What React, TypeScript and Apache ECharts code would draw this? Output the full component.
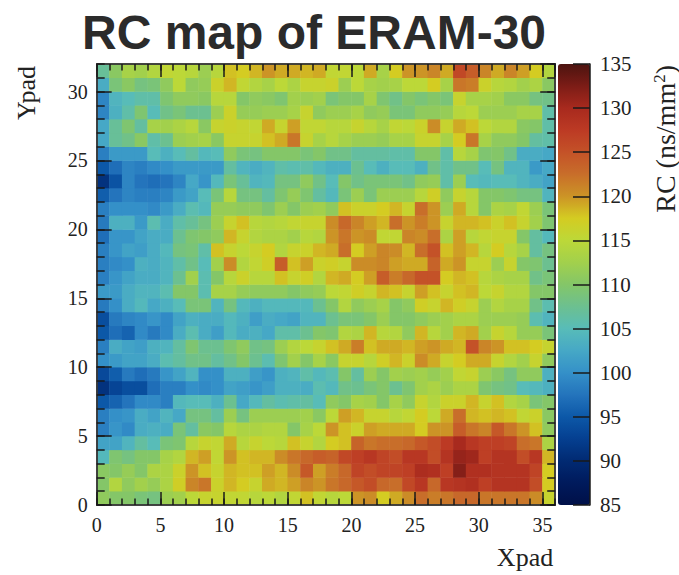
import React, { useEffect, useRef } from "react";
import * as echarts from "echarts";

const xPads = Array.from({ length: 36 }, (_, i) => String(i));
const yPads = Array.from({ length: 32 }, (_, i) => String(i));

// RC values per row; row00 is the bottom row, row31 the top one
const row00 = [111,110,110,109,108.5,112,112.5,115,116,116,115.5,115.5,114.5,115,114,115.5,118,115.5,114.5,115,120,120.5,117.5,119,120.5,122.5,121.5,122,123,123,122,122,122,122,120.5,116];
const row01 = [110,114,111,112.5,111.5,113.5,117,121,122,116.5,118.5,117.5,116,119,118.5,119.5,121,120,122,123,124.5,125.5,123,122.5,126,128,123,128,128.5,129,127,128.5,128.5,128.5,125.5,117.5];
const row02 = [110.5,110,111.5,110,113.5,113.5,116.5,120,118,116,118.5,118,118,119.5,118.5,120.5,124.5,119.5,121.5,123,126.5,125.5,126.5,126.5,127,129.5,129,127,132,129,129,128.5,128.5,128.5,126.5,117.5];
const row03 = [104.5,109.5,108.5,110,110,113,114,118.5,119.5,115.5,120,118,118.5,118.5,120.5,122,123,124,123.5,126,127,128,126.5,125.5,128,128,125.5,128.5,131,130.5,127,128.5,128.5,125.5,128,118.5];
const row04 = [102,102,104,106.5,105,109,109.5,114.5,116,115.5,119,114.5,116,115,114.5,118,116,114,117.5,118,123.5,122,122.5,122.5,123,124.5,125.5,127.5,130,128,127,127,126.5,122.5,122,113.5];
const row05 = [98.5,100.5,99.5,103,103.5,103,109,106.5,110.5,110,114.5,113.5,113.5,114,114,110,113,115,120,118,116.5,119.5,119,119,119,117.5,120,120,124,122,121,124.5,122,120,118,111];
const row06 = [98.5,100,100.5,103,102,104,102.5,108.5,108.5,106.5,112,108.5,112,112,112,112,112.5,110.5,115,119.5,118.5,116,116,114.5,115.5,117.5,115,119,122.5,118.5,118,118.5,118,115.5,116.5,110.5];
const row07 = [95,96,97.5,99.5,99.5,98.5,104.5,105,105,103.5,107.5,102.5,104.5,106.5,105.5,106,106.5,105,111,110,113,112.5,110,113,111,116,114,116.5,116.5,118.5,116,118,114,113,109,110];
const row08 = [91,93,94,94,97,98.5,98.5,100,99.5,100,102,101.5,100.5,101.5,103.5,103.5,103,105.5,104.5,108,107.5,109,110,107.5,109.5,112.5,113.5,112,113.5,113.5,109.5,108.5,108,105,104.5,103.5];
const row09 = [93.5,95.5,98,97,98,100.5,102,104,100,100,103.5,103.5,101.5,100.5,103.5,104,106,104.5,105.5,110,106.5,112,110,112.5,112,112.5,111.5,112.5,115.5,116,112,110.5,108.5,111,111,103.5];
const row10 = [100,101,102,102,103,105.5,106.5,108,108,106.5,108,110,107.5,105.5,109.5,112.5,110,113,110.5,116,116,114.5,117,118.5,116.5,120.5,119,116,117.5,119,119,116,114,112.5,116,111];
const row11 = [98.5,103,102,101.5,103.5,104,106.5,109.5,107.5,107.5,109.5,111,108,108.5,112,114,115,116,118,119,121.5,118,119,119,118.5,119.5,120,119,118.5,125,121,120,118,118,117.5,116];
const row12 = [95,97,96,99.5,98,99.5,103,105.5,103,101.5,104.5,103,103.5,102.5,106,106,107.5,110,109.5,114,113.5,118.5,114.5,114,111,118.5,114.5,112.5,118.5,119,112.5,116,114.5,111.5,111.5,109];
const row13 = [94,98,99,99.5,100.5,99.5,102,103.5,103,103,104.5,103.5,101.5,103,102.5,102,104,104,107.5,109,109,110,112,110,110,111,112,112.5,113.5,113.5,112,112,112,111.5,105.5,104];
const row14 = [98,100,103,104.5,102.5,103.5,105,109,109,104,108.5,104.5,103.5,104.5,104.5,104.5,104.5,107.5,110,114,111,112,113,110,111,117,116,118.5,117,116,112,114,113,113,108,105.5];
const row15 = [101,101,103,104,104,105.5,110,110,105.5,113,113,111.5,111,111,111,110,111,111.5,115,115.5,117,116,118.5,118,116,119.5,118,116,118,118.5,115,116,114,114,110,110];
const row16 = [98.5,100.5,102,103,103,104,107.5,112.5,105.5,110,114.5,116.5,114.5,114.5,118,116,117,114,118.5,119,117.5,119.5,124,121.5,123,125,125,117.5,118.5,118,114.5,113.5,113,113,108,109];
const row17 = [98.5,99.5,100,103.5,103,104,106,108,105,112.5,120.5,114,115.5,117,124,118,119.5,116.5,117,116,120.5,120.5,121,119.5,119,119,123.5,119,120,116,116,112,116,110,109.5,107.5];
const row18 = [98.5,100.5,102,101.5,103,104.5,108.5,109,106,118,116,115,116,117.5,114,116,116.5,118.5,119,122.5,117.5,119.5,121,120.5,118.5,122.5,125,118,119.5,118.5,114.5,117.5,114.5,113,106.5,108.5];
const row19 = [97,100.5,100.5,102,103,103,107.5,109.5,110,111,118.5,116,114,113.5,113.5,112.5,114.5,114,120,122,120,120.5,115.5,115.5,121,120.5,122.5,113.5,119.5,114.5,115.5,116,116,110,106.5,104.5];
const row20 = [98,103.5,103.5,101,105.5,103,106,107,108.5,112,116,118,114.5,114,114.5,115.5,116,116,120.5,123,121,119.5,118.5,122.5,120,121.5,120,116,118.5,118.5,118,116.5,118,116,112.5,109.5];
const row21 = [98.5,100,100,100,99.5,101,103,105.5,104.5,111.5,111.5,111,111,109.5,112,110,112,112.5,111,118,116.5,116.5,117.5,118.5,116,122.5,120,112,119,114.5,110,113.5,113,115.5,112,109];
const row22 = [95.5,97.5,99,98.5,98.5,99,101,102,105,109,114.5,108.5,108.5,106.5,109.5,111.5,109.5,106.5,104.5,109,112,109,112,112,112,114.5,117,111,116,114.5,110,110,109.5,108.5,108.5,104];
const row23 = [91,94.5,99,97.5,97,97.5,99,102.5,100.5,104.5,109,107,104,104.5,108.5,108.5,111,108,105,110,108,109,109,109,108,111,111.5,106,112,105,104.5,105,105,104,103,102];
const row24 = [95,97,99,98.5,99.5,100,101,101,101,101,106.5,104,103,104,106,105.5,106,104.5,103.5,103.5,107.5,105,103.5,105,105,103.5,108,106,108,108,105,108.5,104,104,101,102.5];
const row25 = [98.5,101,101,101,105,103.5,105,106.5,104.5,105,111,109,108.5,110,110,110,109,110,108,108,106.5,106.5,106.5,106,106,110,110,106,114.5,113,109.5,110,108,103,103,102.5];
const row26 = [102.5,107,108,110.5,106,107.5,112,112.5,113,110.5,116,116,116,118,119,122,116,113,114.5,113,112,112,111.5,113,113,116,116,113,117.5,122,113,111,111,110,106.5,106];
const row27 = [102.5,107,109.5,106.5,113,112.5,113.5,114.5,110.5,116,116.5,116,115.5,119,116,119.5,115.5,115.5,114.5,114.5,116,114.5,113,115.5,115,116.5,120.5,116,119,118,115,114,114,110.5,110,106];
const row28 = [99,103.5,106,109.5,105,108,109,107.5,107.5,112,116.5,111.5,111.5,112,112,113,116,111,112,112,113,111,111.5,109,109,111,111,111.5,114.5,115,112,112,112,113,113,106];
const row29 = [99,104,105,106,106,109.5,111,111,110.5,114.5,114.5,110,111,110.5,109.5,112.5,112,112.5,109,110,110,113,109.5,108,110,109,110,109,116,113,113,112.5,110.5,110.5,108.5,108];
const row30 = [103,109,110.5,108.5,109,111,115,111,111.5,116.5,118.5,115.5,114,113,115,113.5,116,116,116.5,112,115,113,112.5,113,115,115,117.5,113,122,121.5,116.5,114.5,114,112.5,113.5,110.5];
const row31 = [107,110.5,113,112.5,114,115.5,115,114.5,112,114.5,118,117.5,118.5,120,119,119,118.5,119,115.5,115.5,115,119,113,117.5,120,120,121,119,126,124,121,119,121,119.5,117.5,114];

const rows = [row00,row01,row02,row03,row04,row05,row06,row07,row08,row09,row10,row11,row12,row13,row14,row15,row16,row17,row18,row19,row20,row21,row22,row23,row24,row25,row26,row27,row28,row29,row30,row31];

const rampColors = ["#001048","#001a5c","#012a72","#053f90","#0c58a8","#2474bc","#3490c8","#46a8c6","#58bcb8","#6cc090","#84c668","#a2d04c","#bcd838","#d4cc22","#cc9426","#c86e2a","#c45228","#bc3a24","#a82a1e","#7c1c16","#4c1410"];

const SERIF = "'Liberation Serif', serif";
const INK = "#222";
const FRAME = "#3a3a3a";

function xTicks(position: string, interval: number, length: number, labelled: boolean, extra: object = {}) {
  return {
    type: "value", gridIndex: 0, position, min: 0, max: 36, interval, z: 5,
    axisLine: { show: true, onZero: false, lineStyle: { color: FRAME, width: 1.5 } },
    axisTick: { show: true, inside: true, length, lineStyle: { color: "#1a1a1a", width: 1.5 } },
    axisLabel: { show: labelled, showMaxLabel: false, margin: 10, fontFamily: SERIF, fontSize: 20, color: INK },
    splitLine: { show: false },
    ...extra,
  };
}
function yTicks(position: string, interval: number, length: number, labelled: boolean, extra: object = {}) {
  return {
    type: "value", gridIndex: 0, position, min: 0, max: 32, interval, z: 5,
    axisLine: { show: true, onZero: false, lineStyle: { color: FRAME, width: 1.5 } },
    axisTick: { show: true, inside: true, length, lineStyle: { color: "#1a1a1a", width: 1.5 } },
    axisLabel: { show: labelled, showMaxLabel: false, margin: 9, fontFamily: SERIF, fontSize: 20, color: INK },
    splitLine: { show: false },
    ...extra,
  };
}

export default function App() {
  const ref = useRef<HTMLDivElement>(null);
  useEffect(() => {
    if (!ref.current) return;
    const chart = echarts.init(ref.current, undefined, { renderer: "svg" });
    const cells: number[][] = [];
    rows.forEach((row, y) => row.forEach((v, x) => cells.push([x, y, v])));
    chart.setOption({
      animation: false,
      backgroundColor: "#fff",
      title: {
        text: "RC map of ERAM-30",
        left: 314, top: 3, textAlign: "center",
        textStyle: { fontFamily: "'Liberation Sans', sans-serif", fontWeight: "bold", fontSize: 48, color: "#2b2b2b" },
      },
      grid: [
        { left: 96.7, top: 64, width: 458.5, height: 441 },
        { left: 558, top: 64, width: 32, height: 441 },
      ],
      xAxis: [
        { type: "category", gridIndex: 0, data: xPads, show: false },
        xTicks("bottom", 5, 13, true, {
          name: "Xpad", nameLocation: "end", nameGap: -2, nameMoveOverlap: false,
          nameTextStyle: { fontFamily: SERIF, fontSize: 26, color: INK, align: "right", verticalAlign: "top", padding: [39, 0, 0, 0] },
        }),
        xTicks("bottom", 1, 6.5, false),
        xTicks("top", 5, 13, false),
        xTicks("top", 1, 6.5, false),
        { type: "value", gridIndex: 1, min: 0, max: 1, show: false },
      ],
      yAxis: [
        { type: "category", gridIndex: 0, data: yPads, show: false },
        yTicks("left", 5, 15, true, {
          name: "Ypad", nameLocation: "end", nameGap: -2, nameRotate: 90, nameMoveOverlap: false,
          nameTextStyle: { fontFamily: SERIF, fontSize: 26, color: INK, align: "right", verticalAlign: "bottom", padding: [0, 0, 57, 0] },
        }),
        yTicks("left", 1, 8, false),
        yTicks("right", 5, 15, false),
        yTicks("right", 1, 8, false),
        {
          type: "value", gridIndex: 1, position: "right", min: 85, max: 135, interval: 5, z: 5,
          axisLine: { show: true, onZero: false, lineStyle: { color: "#1a1a1a", width: 1.5 } },
          axisTick: { show: true, inside: true, length: 17, lineStyle: { color: "#1a1a1a", width: 1.5 } },
          axisLabel: { show: true, margin: 10, fontFamily: SERIF, fontSize: 21, color: INK },
          splitLine: { show: false },
          name: "RC (ns/mm{sup|2})", nameLocation: "end", nameGap: -1, nameRotate: 90, nameMoveOverlap: false,
          nameTextStyle: {
            fontFamily: SERIF, fontSize: 28, color: INK, align: "right", verticalAlign: "middle", padding: [150, 0, 0, 0],
            rich: { sup: { fontFamily: SERIF, fontSize: 17, color: INK, padding: [0, 0, 12, 0] } },
          },
        },
      ],
      visualMap: {
        type: "continuous", seriesIndex: 0, min: 85, max: 135, calculable: false, show: true,
        left: 558, top: 64, padding: 0, itemWidth: 32, itemHeight: 441, text: ["", ""], showLabel: false,
        inRange: { color: rampColors },
      },
      series: [
        {
          type: "heatmap", xAxisIndex: 0, yAxisIndex: 0, data: cells, progressive: 0,
          itemStyle: { borderWidth: 0 }, emphasis: { disabled: true },
        },
      ],
    });
    chart.setOption({ title: { left: 309 } });
    return () => chart.dispose();
  }, []);
  return (
    <div
      ref={ref}
      style={{ position: "absolute", left: 0, top: 0, width: 679, height: 575 }}
    />
  );
}
